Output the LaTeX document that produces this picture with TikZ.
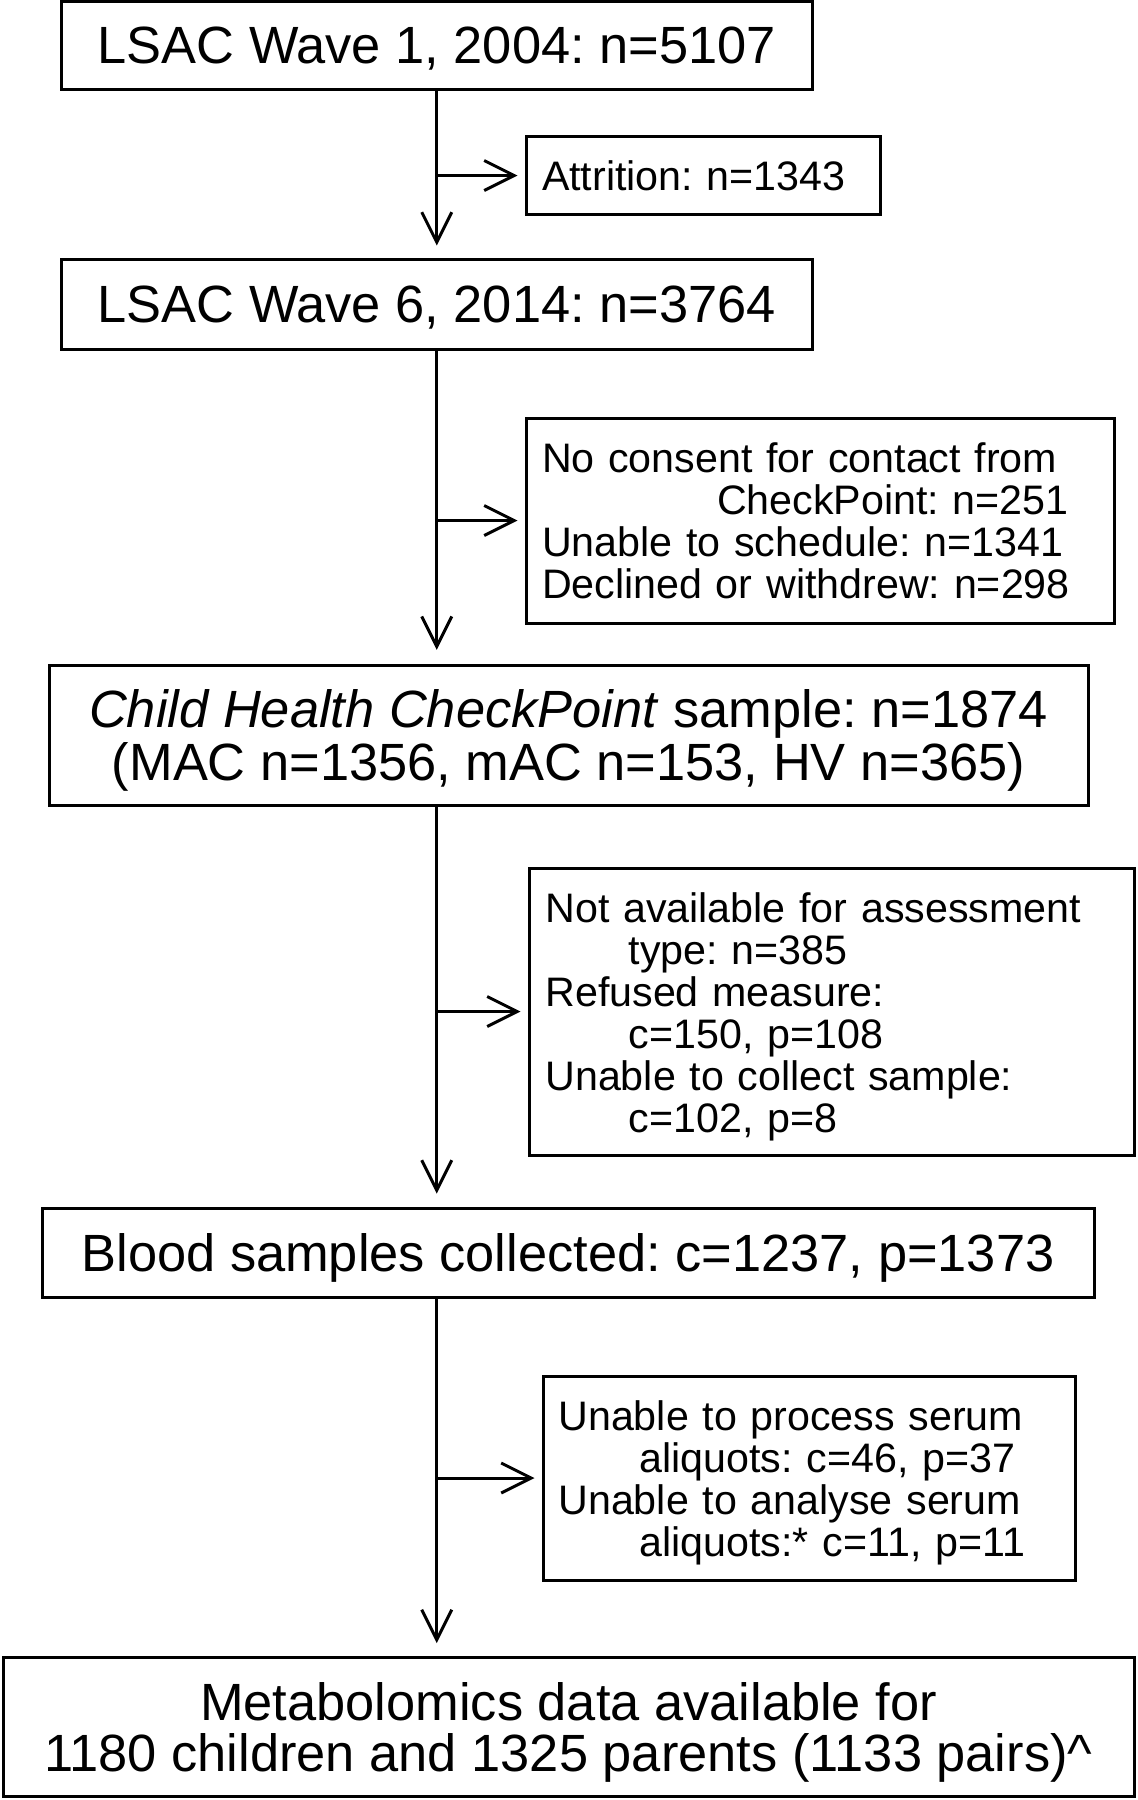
\documentclass[tikz,border=0pt]{standalone}
\usepackage{fontspec}
\setmainfont{Liberation Sans}
\usetikzlibrary{arrows.meta}
\begin{document}
\frenchspacing
\begin{tikzpicture}[x=0.5pt,y=-0.5pt,
  mainbox/.style={draw, line width=1.5pt, inner sep=0pt, align=center, font=\fontsize{26.2pt}{26.5pt}\selectfont\frenchspacing, text height=18.76pt, text depth=0pt},
  sidebox/.style={draw, line width=1.5pt, inner ysep=0pt, align=left, font=\fontsize{20.6pt}{21pt}\selectfont\frenchspacing},
  arr/.style={line width=1.5pt, -{Straight Barb[length=15pt,width=15pt,line width=1.5pt]}},
]
\useasboundingbox (0,0) rectangle (1137,1800);
\node[mainbox, minimum width=375.25pt, minimum height=43.75pt, text height=18.36pt] (b1) at (436.75,45.25) {LSAC Wave 1, 2004: n=5107};
\node[sidebox, inner xsep=8pt, text width=161pt, minimum height=39pt, text height=14.75pt, text depth=0pt] (a1) at (703,175.5) {Attrition: n=1343};
\node[mainbox, minimum width=375.25pt, minimum height=45pt] (b2) at (436.75,304) {LSAC Wave 6, 2014: n=3764};
\node[sidebox, inner xsep=8pt, text width=278pt, minimum height=102.5pt, text height=14.75pt, text depth=63pt] (a2) at (820,520.5) {No consent for contact from\\\hspace*{87.5pt}CheckPoint: n=251\\Unable to schedule: n=1341\\Declined or withdrew: n=298};
\node[mainbox, minimum width=519.5pt, minimum height=70pt, text height=45.26pt] (b3) at (568.5,735.25) {\textit{Child Health CheckPoint} sample: n=1874\\(MAC n=1356, mAC n=153, HV n=365)};
\node[sidebox, inner xsep=8.2pt, text width=286.1pt, minimum height=143.5pt, text height=15.5pt, text depth=104.25pt] (a3) at (831.5,1011.5) {Not available for assessment\\\hspace*{41.75pt}type: n=385\\Refused measure:\\\hspace*{41.75pt}c=150, p=108\\Unable to collect sample:\\\hspace*{41.75pt}c=102, p=8};
\node[mainbox, minimum width=526pt, minimum height=44.5pt] (b4) at (568,1252.5) {Blood samples collected: c=1237, p=1373};
\node[sidebox, inner xsep=7.7pt, text width=250.6pt, minimum height=102pt, text height=15.25pt, text depth=62.5pt] (a4) at (809,1478) {Unable to process serum\\\hspace*{40.5pt}aliquots: c=46, p=37\\Unable to analyse serum\\\hspace*{40.5pt}aliquots:* c=11, p=11};
\node[mainbox, minimum width=565.5pt, minimum height=69.5pt, font=\fontsize{26.2pt}{25.5pt}\selectfont\frenchspacing, text height=44.26pt] (b5) at (568.5,1727) {Metabolomics data available for\\1180 children and 1325 parents (1133 pairs)\textasciicircum};
\coordinate (top) at (b1.south);
\draw[arr] (top) -- ([yshift=6pt]b2.north -| top);
\draw[arr] (b2.south -| top) -- ([yshift=7pt]b3.north -| top);
\draw[arr] (b3.south -| top) -- ([yshift=6.5pt]b4.north -| top);
\draw[arr] (b4.south -| top) -- ([yshift=6.5pt]b5.north -| top);
\draw[arr] (a1.west -| top) -- ([xshift=-3.5pt]a1.west);
\draw[arr] (a2.west -| top) -- ([xshift=-3.5pt]a2.west);
\draw[arr] (a3.west -| top) -- ([xshift=-3.5pt]a3.west);
\draw[arr] (a4.west -| top) -- ([xshift=-3.5pt]a4.west);
\end{tikzpicture}
\end{document}
